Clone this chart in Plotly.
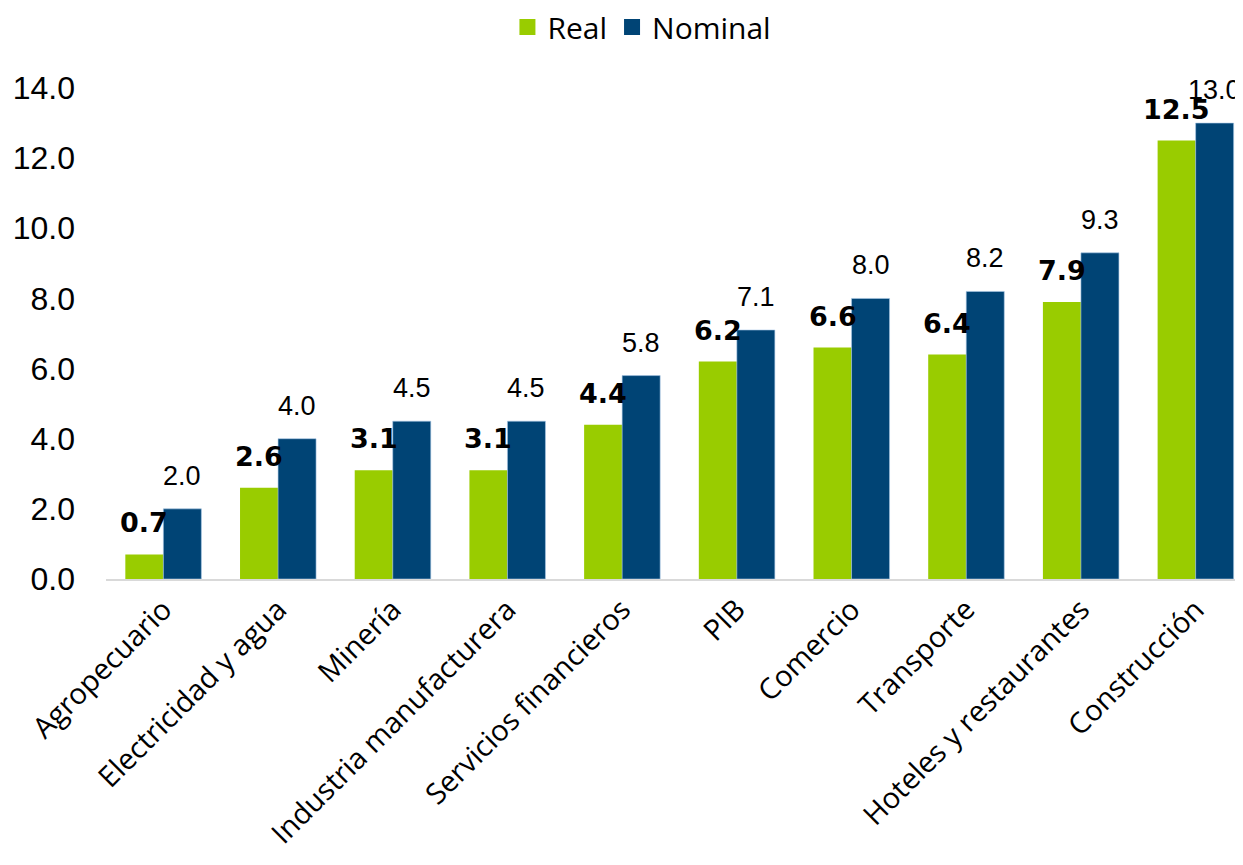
import plotly.graph_objects as go

categories = ["Agropecuario", "Electricidad y agua", "Minería", "Industria manufacturera",
              "Servicios financieros", "PIB", "Comercio", "Transporte",
              "Hoteles y restaurantes", "Construcción"]
real = [0.7, 2.6, 3.1, 3.1, 4.4, 6.2, 6.6, 6.4, 7.9, 12.5]
nominal = [2.0, 4.0, 4.5, 4.5, 5.8, 7.1, 8.0, 8.2, 9.3, 13.0]
y_ticks = [0, 2, 4, 6, 8, 10, 12, 14]

GREEN = "#99CC00"
BLUE = "#004475"
BARGAP = 0.337

fig = go.Figure()
fig.add_trace(go.Bar(name="Real", x=categories, y=real, showlegend=False,
                     marker=dict(color=GREEN, line=dict(width=0))))
fig.add_trace(go.Bar(name="Nominal", x=categories, y=nominal, showlegend=False,
                     marker=dict(color=BLUE, line=dict(color="rgba(170,200,230,0.6)", width=1))))
# legend entries
for name, col in [("Real", GREEN), ("Nominal", BLUE)]:
    fig.add_trace(go.Scatter(name=name, x=[None], y=[None], mode="markers",
                             marker=dict(symbol="square", size=19, color=col)))

off = (1 - BARGAP) / 4
annotations = []
for i, (r, n) in enumerate(zip(real, nominal)):
    annotations.append(dict(x=i - off, y=r, xref="x", yref="y", text=f"<b>{r:.1f}</b>",
                            showarrow=False, yanchor="bottom", yshift=14,
                            font=dict(family="DejaVu Sans", size=27, color="black")))
    annotations.append(dict(x=i + off, y=n, xref="x", yref="y", text=f"{n:.1f}",
                            showarrow=False, yanchor="bottom", yshift=16,
                            font=dict(family="Liberation Sans", size=27, color="black")))

fig.update_layout(
    width=1243, height=865,
    margin=dict(l=98, r=8, t=80, b=294, autoexpand=False),
    plot_bgcolor="white", paper_bgcolor="white",
    barmode="group", bargap=BARGAP, bargroupgap=0,
    showlegend=True,
    legend=dict(orientation="h", xref="container", yref="container",
                x=0.51, xanchor="center", y=1 - 19 / 865, yanchor="middle",
                font=dict(family="Open Sans", size=30, color="black"),
                itemsizing="trace", itemwidth=30, tracegroupgap=0),
    annotations=annotations,
    xaxis=dict(type="category", range=[-0.5, 9.413], tickangle=-45, automargin=False,
               showline=True, linecolor="#D9D9D9", linewidth=2, ticks="",
               tickfont=dict(family="Open Sans", size=29, color="black"), showgrid=False),
    yaxis=dict(range=[0, 14], tickvals=y_ticks, tickformat=".1f", showgrid=False,
               zeroline=False, showline=False, ticklabelstandoff=30, automargin=False,
               tickfont=dict(family="Liberation Sans", size=32, color="black")),
)

fig.write_html("out.html")
